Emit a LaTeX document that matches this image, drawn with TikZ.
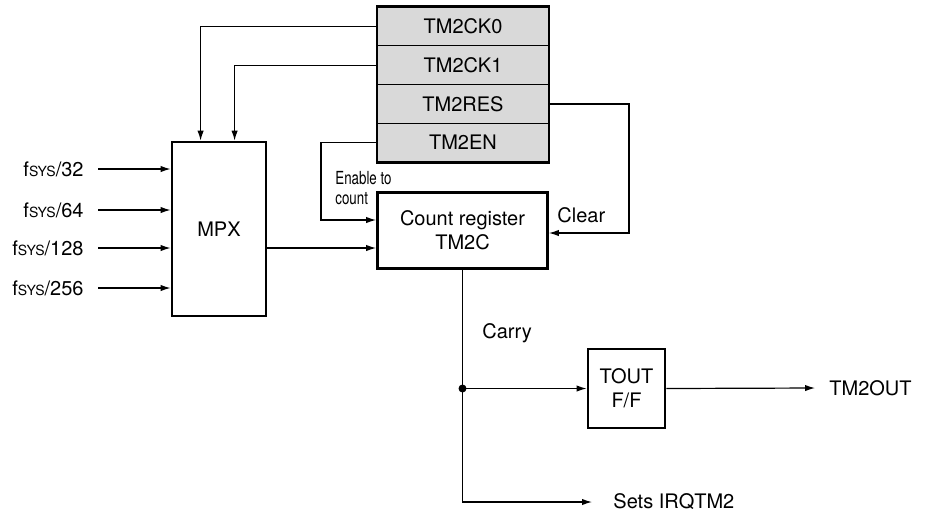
\documentclass[tikz,border=0pt]{standalone}
\usepackage{fontspec}
\setmainfont{TeX Gyre Heros}
\usetikzlibrary{positioning,arrows.meta,calc}

\begin{document}
\begin{tikzpicture}[x=0.5pt,y=-0.5pt,font=\normalsize,
  blk/.style={draw, line width=1.4pt, align=center, inner sep=0pt},
  regrow/.style={draw, line width=0.5pt, fill=gray!30, minimum width=85.5pt,
                 minimum height=19.4pt, inner sep=0pt},
  arr/.style={-{Latex[length=5pt,width=3.2pt]}, line width=0.6pt},
  wire/.style={line width=0.6pt}]

  \useasboundingbox (0,0) rectangle (941,516);

  % Register bits (top to bottom)
  \node[regrow] (ck0) at (463,26.4)  {TM2CK0};
  \node[regrow] (ck1) at (463,65.1)  {TM2CK1};
  \node[regrow] (res) at (463,103.9) {TM2RES};
  \node[regrow] (en)  at (463,142.6) {TM2EN};
  \draw[line width=1.4pt] (ck0.north west) rectangle (en.south east);

  % Blocks
  \node[blk, minimum width=47pt, minimum height=87pt] (mpx) at (219,229) {MPX};
  \node[blk, minimum width=85pt, minimum height=38pt] (cnt) at (462.5,230.5)
    {Count register\\TM2C};
  \node[blk, minimum width=38.5pt, minimum height=39.5pt] (tout) at (626.5,388.5)
    {TOUT\\F/F};

  % Clock inputs
  \foreach \d/\y in {32/169,64/210,128/248,256/288}{
    \node[anchor=east, inner sep=0pt] (f\d) at (84,\y) {f{\scriptsize SYS}/\d};
    \draw[arr] ([xshift=7pt]f\d.east) -- (f\d.east -| mpx.west);
  }

  % Clock select
  \draw[arr] (ck0.west) -| ([xshift=15pt]mpx.north west);
  \draw[arr] (ck1.west) -| ([xshift=32pt]mpx.north west);

  % Enable, clock and clear into count register
  \draw[arr] (en.west) -- ++(-28pt,0) |- ([yshift=5.25pt]cnt.west);
  \node[anchor=north west, align=left, inner sep=0pt,
        font=\small\addfontfeatures{FakeStretch=0.74}\linespread{0.9}\selectfont]
    (entxt) at (335,171) {Enable to\\count};
  \draw[arr] (mpx.east |- 0,248) -- (cnt.west |- 0,248);
  \draw[arr] (res.east) -- ++(40pt,0) |- ([yshift=-1.25pt]cnt.east);
  \node[anchor=west, inner sep=0pt] (clr) at (557,215) {Clear};

  % Carry out
  \draw[wire] (cnt.south) -- (cnt.south |- tout.west) coordinate (jn);
  \fill (jn) circle (2pt);
  \node[anchor=west, inner sep=0pt] (cry) at (482,333) {Carry};
  \node[anchor=west, inner sep=0pt] (irq) at (613,502) {Sets IRQTM2};
  \node[anchor=west, inner sep=0pt] (out) at (829,388) {TM2OUT};
  \draw[arr] (jn) -- (tout.west);
  \draw[arr] (jn) |- ([xshift=-10.5pt]irq.west);
  \draw[arr] (tout.east) -- ([xshift=-7pt]out.west);
\end{tikzpicture}
\end{document}
